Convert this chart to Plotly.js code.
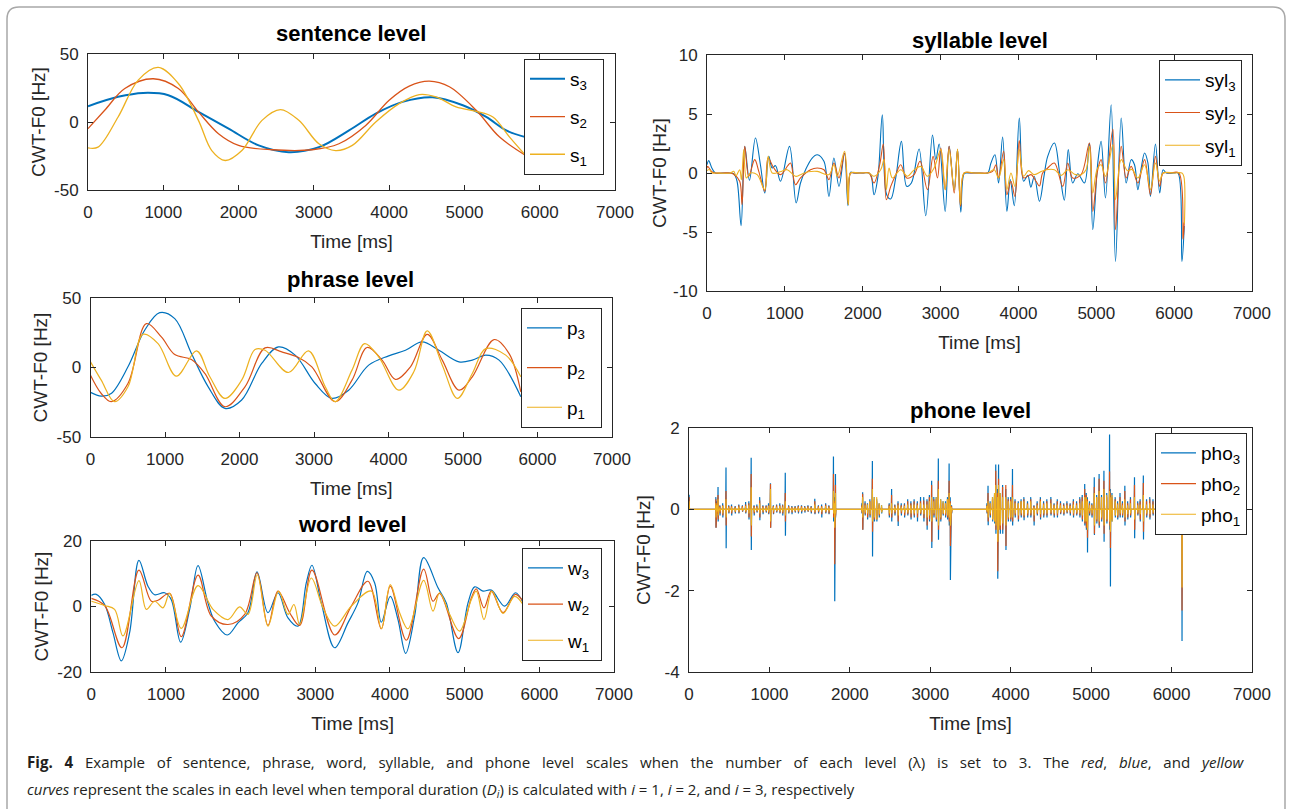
<!DOCTYPE html>
<html><head><meta charset="utf-8">
<script src="https://cdn.plot.ly/plotly-3.0.1.min.js"></script>
<style>html,body{margin:0;padding:0;background:#fff;} #chart{width:1292px;height:809px;}</style>
</head><body><div id="chart"></div>
<script>
// ---------------- DATA ----------------
const xTicks = [0,1000,2000,3000,4000,5000,6000,7000];
const panelTitles = ["sentence level","phrase level","word level","syllable level","phone level"];
const xLabel = "Time [ms]";
const yLabel = "CWT-F0 [Hz]";
const sentNames = ["s<sub>3</sub>","s<sub>2</sub>","s<sub>1</sub>"];
const phrNames = ["p<sub>3</sub>","p<sub>2</sub>","p<sub>1</sub>"];
const wordNames = ["w<sub>3</sub>","w<sub>2</sub>","w<sub>1</sub>"];
const sylNames = ["syl<sub>3</sub>","syl<sub>2</sub>","syl<sub>1</sub>"];
const phoNames = ["pho<sub>3</sub>","pho<sub>2</sub>","pho<sub>1</sub>"];

// sentence level [ms, Hz]
const sent3 = [[0,11.6],[400,18.5],[733,21.4],[1067,19.7],[1467,7.5],[1867,-4.9],[2267,-17.2],[2667,-22.2],[3067,-18.5],[3467,-6.2],[3822,6.2],[4178,14.8],[4578,18.2],[4978,12.3],[5289,3.7],[5556,-6.2],[5813,-11.1]];
const sent2 = [[0,-4.9],[222,8.6],[489,24.6],[867,31.8],[1200,24.6],[1467,7.4],[1733,-8.6],[2000,-17.2],[2444,-20.4],[2978,-20.4],[3333,-16],[3689,-2.5],[4000,16],[4267,26.4],[4533,30],[4800,25.9],[5156,8.6],[5467,-11.1],[5813,-24.6]];
const sent1 = [[0,-19],[133,-18.5],[400,3.7],[667,30.8],[933,40.1],[1200,28.3],[1467,1.2],[1644,-21],[1822,-28.3],[2044,-21],[2311,1.2],[2556,9.1],[2800,1.2],[3067,-16],[3289,-21],[3511,-17.2],[3822,0],[4133,13.5],[4400,20.2],[4622,18.5],[4889,11.1],[5156,7.9],[5378,3.7],[5600,-11.1],[5813,-24.6]];

// phrase level
const phr3 = [[0,-17.9],[144,-20.6],[278,-18.7],[503,0.5],[727,26.8],[929,39.5],[1131,35.2],[1355,10],[1580,-13.9],[1804,-29.4],[2029,-23.4],[2298,2.9],[2522,14.8],[2747,8.9],[3016,-11.5],[3240,-22.2],[3465,-16.3],[3734,1.7],[4003,8.4],[4228,12.4],[4452,18.4],[4677,12.4],[4946,4.1],[5125,5.3],[5305,8.9],[5484,5.3],[5776,-21]];
const phr2 = [[0,-5.5],[144,-18.7],[278,-24.6],[503,-11.5],[750,31.6],[951,22],[1131,9.3],[1355,5.7],[1535,-4.3],[1804,-28.2],[2073,-13.9],[2343,14.1],[2567,11.2],[2792,7.2],[2971,0.5],[3285,-24.6],[3510,-9.1],[3712,14.4],[3914,5.3],[4093,-8.6],[4295,0.5],[4520,23.9],[4722,5.3],[4946,-16.3],[5125,-6.7],[5417,20.1],[5619,10],[5776,-17.5]];
const phr1 = [[0,4.1],[144,-9.1],[323,-24.6],[503,-13.9],[705,23.9],[907,17.2],[1153,-6.2],[1423,12],[1602,-6.7],[1804,-22.2],[2029,-9.1],[2208,12.9],[2343,12.4],[2657,-3.6],[2926,12],[3151,-13.9],[3285,-24.6],[3510,-1.9],[3680,17.2],[3868,7.7],[4138,-16.3],[4340,-3.1],[4520,26.3],[4722,1.7],[4924,-22.2],[5125,-4.3],[5305,13.6],[5574,8.9],[5776,-6.7]];

// word level
const word3 = [[0,3.4],[67,3.7],[179,0.6],[290,-8],[402,-16.6],[513,-8],[638,14.1],[759,6.2],[848,3.6],[982,4.2],[1071,2.1],[1196,-10.9],[1317,-0.9],[1429,12.5],[1562,1.1],[1652,-4.5],[1821,-8.7],[1964,-5],[2098,-1.9],[2219,10.6],[2366,-1.9],[2500,4.2],[2634,-3.5],[2768,-6],[2879,7.2],[2955,12.6],[3080,1.1],[3259,-12.6],[3437,-5],[3571,1.1],[3696,10.7],[3795,7.2],[3884,-4.8],[4004,3.1],[4107,-4],[4210,-14.3],[4330,-2.9],[4451,14.9],[4643,5.7],[4754,1.1],[4911,-14.1],[5045,1.1],[5134,6],[5245,4.7],[5357,5],[5536,0.1],[5679,4.2],[5781,1.3]];
const word2 = [[0,2.5],[179,0.3],[411,-12.6],[638,11.1],[804,1.6],[893,1.9],[1049,4],[1205,-9.2],[1429,9.6],[1607,-2.9],[1830,-5.5],[2054,-2.4],[2219,10.3],[2366,-5.8],[2500,4.7],[2656,-1.9],[2790,-5.8],[2955,11.1],[3259,-8.7],[3482,0.1],[3705,7.7],[3884,-6.8],[4004,6.2],[4219,-10.3],[4451,11.4],[4576,1.6],[4665,4],[4920,-9.8],[5089,2.6],[5156,5.4],[5259,-0.4],[5357,4.7],[5513,-1.9],[5679,3.7],[5781,1.6]];
const word1 = [[0,1.6],[179,0.3],[312,-0.9],[424,-9],[638,7.9],[737,-0.9],[848,1.6],[960,-0.4],[1049,4],[1205,-6.7],[1429,6.4],[1630,-0.9],[1830,-4],[1986,-0.1],[2098,-2.4],[2223,9.7],[2366,-6],[2509,4.7],[2634,-2.4],[2714,0.6],[2790,-5.5],[2946,8.7],[3103,-0.4],[3259,-6],[3482,0.1],[3750,4.7],[3884,-6.8],[4004,6.7],[4129,-1.9],[4241,-6.8],[4451,8],[4576,-1.4],[4665,4.2],[4799,-2.4],[4933,-7.5],[5089,2.1],[5156,4.7],[5259,-4],[5366,4.7],[5513,-2.1],[5670,3.1],[5781,0.6]];

// syllable level
const syl3 = [[0,0.7],[21,1.05],[64,0.4],[107,0],[200,0],[300,0],[343,-0.05],[386,-0.7],[438,-4.46],[485,2.26],[545,-0.62],[622,2.97],[686,0.7],[742,-1.7],[794,1.41],[837,0.42],[880,0.62],[944,-0.7],[1060,2.26],[1145,-2.54],[1201,-0.85],[1266,0.28],[1351,1.27],[1416,1.55],[1502,0.99],[1566,-1.98],[1630,1.27],[1695,-1.13],[1767,1.7],[1810,-2.77],[1845,0.06],[1888,0],[2000,0],[2081,0],[2111,-0.28],[2145,-1.84],[2196,-0.28],[2252,4.94],[2308,-1.84],[2360,-2.2],[2424,-0.42],[2497,2.68],[2565,-1.13],[2625,-0.85],[2724,2.03],[2810,-3.62],[2896,3.22],[2939,1.13],[2982,2.46],[3059,-3.25],[3110,2.26],[3175,-1.41],[3218,1.98],[3260,-3.33],[3303,-0.06],[3346,0],[3500,0],[3604,0],[3647,0.85],[3698,1.55],[3745,-0.85],[3797,3.05],[3852,-3.25],[3895,-0.56],[3947,-2.77],[4011,4.66],[4067,-0.7],[4120,-0.2],[4160,-1.2],[4204,-0.3],[4270,-2.4],[4330,-0.2],[4376,1.41],[4462,2.54],[4530,0],[4590,-2.3],[4640,1.98],[4697,-0.85],[4762,-0.06],[4848,-0.85],[4912,2.54],[4955,-4.8],[5019,0.85],[5062,2.68],[5118,-2.12],[5191,5.79],[5247,-7.49],[5320,4.66],[5384,-0.85],[5448,1.13],[5491,0.7],[5534,-1.41],[5577,0.42],[5620,1.7],[5663,0.85],[5696,-1.98],[5760,2.46],[5815,-1.7],[5858,0.28],[5900,0],[6000,0],[6050,0],[6100,-7.5],[6130,-4.5]];
const syl2 = [[0,0.4],[9,0.56],[64,0.1],[107,0],[200,0],[300,0],[343,-0.1],[420,-0.7],[450,-2.68],[485,2.26],[536,-0.28],[613,1.13],[665,0.14],[742,-1.55],[785,1.27],[858,0.42],[944,-0.14],[1038,0.62],[1073,0.85],[1137,-0.99],[1201,-0.42],[1330,0.28],[1416,0.42],[1502,0.28],[1566,-0.56],[1630,0.85],[1695,-0.42],[1767,1.7],[1815,-2.68],[1845,0],[1900,0],[2000,0],[2081,0],[2145,-0.85],[2218,0.7],[2265,2.46],[2304,-2.26],[2360,-1.13],[2424,-0.14],[2488,0.7],[2565,-0.42],[2660,-0.14],[2737,0.99],[2831,-1.41],[2904,1.41],[2960,-0.42],[3003,2.12],[3059,-1.41],[3110,2.26],[3175,-1.7],[3218,1.98],[3256,-2.82],[3303,0],[3400,0],[3500,0],[3604,0],[3668,0.14],[3711,0.7],[3745,-0.42],[3810,1.84],[3852,-1.84],[3904,-0.7],[3955,-1.98],[4011,2.74],[4067,-0.42],[4161,-0.14],[4226,-0.7],[4270,-1.1],[4311,0],[4376,0.42],[4462,0.85],[4569,-1.13],[4633,0.85],[4697,-0.42],[4805,-0.14],[4912,2.54],[4955,-3.25],[5019,0.28],[5062,1.13],[5118,-0.85],[5213,3.73],[5247,-4.8],[5320,2.26],[5384,-0.42],[5448,0.56],[5534,-0.85],[5620,1.13],[5696,-1.84],[5760,1.41],[5815,-1.13],[5858,0],[5950,0],[6060,0],[6115,-5.6],[6130,-4.2]];
const syl1 = [[0,0.2],[30,0.3],[64,0],[107,0],[300,0],[343,0.14],[373,-0.23],[420,0.28],[442,-0.56],[472,1.98],[506,-0.42],[558,0],[644,-0.14],[742,-1.41],[785,1.41],[837,0],[940,0.1],[1030,0.28],[1137,-0.28],[1201,-0.14],[1300,0.1],[1416,0.14],[1566,-0.14],[1630,0.7],[1673,-0.28],[1767,1.84],[1815,-2.68],[1845,0],[1950,0],[2081,0],[2145,-0.28],[2231,0.28],[2274,1.13],[2304,-1.41],[2338,0.42],[2381,-0.42],[2488,0.28],[2574,-0.28],[2650,0.2],[2746,0.56],[2831,-0.28],[2917,0.42],[3003,1.98],[3059,-1.41],[3110,1.98],[3175,-1.41],[3218,2.03],[3256,-2.68],[3303,0],[3450,0],[3604,0],[3689,0.28],[3745,-0.42],[3810,1.13],[3852,-1.41],[3904,0],[3955,-1.13],[4011,1.98],[4067,-0.28],[4130,0.2],[4204,-0.14],[4300,0.15],[4380,0.3],[4462,0.28],[4550,-0.2],[4633,0.28],[4720,-0.1],[4805,-0.14],[4870,0.3],[4912,2.26],[4955,-1.7],[5010,0.3],[5062,0.7],[5118,-0.28],[5213,2.4],[5247,-2.26],[5320,1.13],[5400,0.2],[5460,0.3],[5534,-0.42],[5620,0.7],[5696,-1.41],[5760,0.85],[5815,-0.7],[5858,0],[6000,0],[6100,0],[6125,-0.3],[6132,-4.3]];

// phone level spikes: [time ms, pho3 high, pho3 low, pho2 high, pho2 low, pho1 high, pho1 low]
const phoSpikes = [
[2,0.36,0,0.3,0,0.2,0],
[335,0.3,-0.45,0.25,-0.45,0.15,-0.2],[350,0.2,-0.1,0.15,-0.1,0.1,-0.05],[362,0.55,-0.3,0.35,-0.25,0.25,-0.15],[385,0.1,-0.15,0.08,-0.1,0.05,-0.05],[420,0.15,-0.2,0.1,-0.15,0.08,-0.1],
[461,1.03,-0.96,0.45,-0.4,0.25,-0.2],[495,0.1,-0.1,0.08,-0.08,0.05,-0.05],[530,0.12,-0.15,0.08,-0.1,0.05,-0.05],[575,0.08,-0.1,0.06,-0.07,0.04,-0.05],[620,0.12,-0.1,0.1,-0.08,0.06,-0.05],[665,0.1,-0.06,0.08,-0.05,0.05,-0.03],[705,0.18,-0.1,0.12,-0.08,0.08,-0.05],[745,0.2,-0.25,0.15,-0.2,0.1,-0.1],
[774,1.27,-1.0,0.87,-0.67,0.54,-0.4],[810,0.1,-0.15,0.08,-0.1,0.05,-0.06],[845,0.12,-0.08,0.08,-0.06,0.05,-0.04],[880,0.3,-0.27,0.22,-0.2,0.15,-0.1],[920,0.1,-0.12,0.08,-0.08,0.05,-0.05],[960,0.1,-0.08,0.08,-0.06,0.05,-0.04],[990,0.15,-0.12,0.1,-0.1,0.08,-0.06],
[1014,0.64,-0.45,0.62,-0.45,0.5,-0.3],[1050,0.1,-0.12,0.08,-0.1,0.06,-0.05],[1090,0.12,-0.08,0.1,-0.06,0.06,-0.04],[1130,0.15,-0.1,0.1,-0.08,0.08,-0.05],[1165,0.12,-0.15,0.1,-0.1,0.06,-0.06],
[1198,0.9,-0.65,0.4,-0.3,0.2,-0.15],[1240,0.1,-0.1,0.08,-0.08,0.05,-0.05],[1280,0.08,-0.12,0.06,-0.08,0.04,-0.05],[1320,0.08,-0.08,0.06,-0.06,0.04,-0.04],[1360,0.1,-0.1,0.08,-0.07,0.05,-0.04],[1400,0.1,-0.1,0.08,-0.06,0.05,-0.04],[1440,0.08,-0.08,0.06,-0.05,0.04,-0.03],[1480,0.1,-0.06,0.08,-0.05,0.05,-0.03],[1520,0.08,-0.1,0.06,-0.07,0.04,-0.04],[1565,0.26,-0.12,0.2,-0.1,0.12,-0.06],[1610,0.1,-0.1,0.08,-0.07,0.05,-0.04],[1650,0.12,-0.2,0.08,-0.12,0.05,-0.06],[1700,0.15,-0.1,0.12,-0.08,0.08,-0.05],[1740,0.1,-0.12,0.08,-0.1,0.05,-0.05],
[1797,1.3,-0.3,0.87,-0.2,0.45,-0.1],[1811,0.3,-2.26,0.2,-1.35,0.15,-0.45],[1822,0.87,-0.2,0.6,-0.15,0.4,-0.1],
[2150,0.15,-0.1,0.1,-0.08,0.06,-0.05],[2160,0.42,-0.5,0.38,-0.5,0.3,-0.2],[2190,0.2,-0.15,0.15,-0.12,0.1,-0.08],[2220,0.15,-0.25,0.12,-0.2,0.12,-0.1],[2250,0.25,-0.2,0.2,-0.15,0.2,-0.12],
[2281,1.19,-1.16,0.75,-0.55,0.5,-0.3],[2305,0.3,-0.3,0.25,-0.25,0.3,-0.2],[2335,0.25,-0.3,0.2,-0.25,0.3,-0.25],[2365,0.15,-0.2,0.12,-0.15,0.15,-0.12],[2395,0.1,-0.1,0.05,-0.05,0.1,-0.08],
[2490,0.15,-0.2,0.12,-0.15,0.08,-0.1],[2520,0.5,-0.3,0.35,-0.2,0.15,-0.1],[2560,0.12,-0.15,0.1,-0.1,0.06,-0.06],[2600,0.2,-0.41,0.15,-0.3,0.1,-0.15],[2640,0.15,-0.15,0.1,-0.1,0.06,-0.05],[2680,0.15,-0.2,0.12,-0.15,0.08,-0.08],[2720,0.25,-0.15,0.2,-0.12,0.12,-0.08],[2760,0.2,-0.25,0.15,-0.2,0.1,-0.1],[2800,0.25,-0.2,0.2,-0.15,0.12,-0.1],[2840,0.2,-0.3,0.15,-0.2,0.1,-0.1],[2880,0.3,-0.15,0.2,-0.12,0.15,-0.08],[2920,0.3,-0.3,0.22,-0.22,0.12,-0.12],[2960,0.25,-0.5,0.2,-0.4,0.12,-0.2],[2990,0.35,-0.3,0.3,-0.25,0.2,-0.15],
[3018,0.7,-0.95,0.6,-0.8,0.3,-0.3],[3045,0.3,-0.2,0.25,-0.15,0.2,-0.1],[3075,0.3,-0.3,0.25,-0.25,0.3,-0.2],[3101,1.25,-0.75,0.7,-0.5,0.5,-0.4],[3130,0.25,-0.3,0.2,-0.25,0.25,-0.2],[3160,0.2,-0.15,0.15,-0.12,0.2,-0.1],[3190,0.2,-0.2,0.15,-0.15,0.15,-0.1],[3215,0.3,-0.25,0.25,-0.2,0.25,-0.15],[3235,1.13,-0.4,0.7,-0.3,0.4,-0.2],[3249,0.3,-1.74,0.2,-0.9,0.15,-0.4],[3265,0.1,-0.1,0.08,-0.08,0.05,-0.05],
[3705,0.15,-0.1,0.1,-0.08,0.08,-0.05],[3719,0.58,-0.39,0.4,-0.3,0.2,-0.2],[3745,0.2,-0.2,0.15,-0.15,0.15,-0.1],[3775,0.3,-0.3,0.25,-0.25,0.3,-0.25],[3800,0.4,-0.35,0.35,-0.3,0.4,-0.3],[3815,1.1,-0.6,0.95,-0.5,0.6,-0.4],[3838,0.5,-1.71,0.4,-1.52,0.3,-0.8],[3850,1.1,-0.5,0.75,-0.5,0.6,-0.5],[3870,0.4,-0.6,0.35,-0.5,0.4,-0.4],[3900,0.6,-0.6,0.55,-0.5,0.3,-0.35],[3940,0.5,-1.0,0.6,-0.9,0.3,-0.4],[3970,0.3,-0.3,0.25,-0.25,0.2,-0.2],[4000,0.3,-0.3,0.25,-0.25,0.2,-0.2],
[4023,0.99,-0.4,0.6,-0.3,0.3,-0.2],[4055,0.25,-0.2,0.2,-0.15,0.15,-0.1],[4095,0.2,-0.3,0.15,-0.25,0.15,-0.15],[4130,0.25,-0.2,0.2,-0.15,0.2,-0.1],[4165,0.3,-0.27,0.25,-0.2,0.2,-0.15],[4210,0.2,-0.2,0.15,-0.15,0.12,-0.1],[4250,0.3,-0.2,0.25,-0.15,0.2,-0.1],[4290,0.1,-0.4,0.08,-0.3,0.05,-0.15],[4330,0.2,-0.15,0.15,-0.12,0.1,-0.08],[4370,0.3,-0.25,0.25,-0.2,0.2,-0.12],[4410,0.2,-0.2,0.15,-0.15,0.12,-0.1],[4450,0.25,-0.2,0.2,-0.15,0.15,-0.1],[4500,0.3,-0.15,0.25,-0.12,0.15,-0.08],[4540,0.15,-0.2,0.12,-0.15,0.1,-0.1],[4580,0.25,-0.2,0.2,-0.15,0.12,-0.1],[4620,0.2,-0.12,0.15,-0.1,0.1,-0.06],[4660,0.15,-0.15,0.12,-0.12,0.08,-0.08],[4700,0.2,-0.1,0.15,-0.08,0.1,-0.05],[4740,0.15,-0.15,0.12,-0.1,0.08,-0.06],[4780,0.25,-0.2,0.2,-0.15,0.12,-0.1],[4820,0.2,-0.15,0.15,-0.12,0.1,-0.08],[4860,0.3,-0.2,0.25,-0.15,0.15,-0.1],[4890,0.35,-0.3,0.3,-0.25,0.2,-0.15],
[4921,0.62,-0.4,0.5,-0.35,0.3,-0.3],[4940,0.4,-0.5,0.35,-0.45,0.3,-0.3],[4954,0.3,-1.06,0.25,-0.7,0.2,-0.5],[4980,0.2,-0.15,0.15,-0.1,0.1,-0.05],[5010,0.15,-0.2,0.12,-0.15,0.1,-0.1],[5040,0.79,-0.63,0.55,-0.6,0.4,-0.4],[5070,0.35,-0.35,0.3,-0.3,0.3,-0.25],[5100,0.87,-0.45,0.75,-0.4,0.45,-0.3],[5130,0.35,-0.3,0.3,-0.25,0.3,-0.2],[5160,0.95,-0.8,0.7,-0.6,0.5,-0.4],[5195,0.4,-0.35,0.3,-0.3,0.35,-0.25],
[5230,1.84,-0.5,0.93,-0.4,0.45,-0.3],[5239,0.5,-1.9,0.4,-0.95,0.3,-0.55],[5260,0.4,-0.3,0.3,-0.25,0.35,-0.3],[5300,0.3,-0.2,0.25,-0.15,0.2,-0.15],[5330,0.2,-0.25,0.15,-0.2,0.12,-0.15],[5360,0.4,-0.2,0.3,-0.15,0.2,-0.1],[5390,0.2,-0.2,0.15,-0.15,0.1,-0.1],[5420,0.58,-0.4,0.45,-0.3,0.25,-0.2],[5455,0.2,-0.25,0.15,-0.2,0.1,-0.12],[5490,0.3,-0.2,0.25,-0.15,0.15,-0.1],[5540,0.79,-0.71,0.6,-0.5,0.3,-0.25],[5580,0.2,-0.15,0.15,-0.12,0.1,-0.08],[5610,0.25,-0.3,0.2,-0.25,0.12,-0.12],[5650,0.83,-0.74,0.65,-0.55,0.35,-0.3],[5690,0.25,-0.2,0.2,-0.15,0.12,-0.1],[5730,0.3,-0.25,0.25,-0.2,0.15,-0.12],[5770,0.25,-0.15,0.2,-0.12,0.12,-0.08],[5810,0.15,-0.2,0.12,-0.15,0.08,-0.1],
[6129,0.05,-3.24,0.05,-2.49,0.03,-1.92]
];

const captionLine1 = "<b>Fig. 4</b> Example of sentence, phrase, word, syllable, and phone level scales when the number of each level (λ) is set to 3. The <i>red</i>, <i>blue</i>, and <i>yellow</i>";
const captionLine2 = "<i>curves</i> represent the scales in each level when temporal duration (<i>D<sub>i</sub></i>) is calculated with <i>i</i> = 1, <i>i</i> = 2, and <i>i</i> = 3, respectively";

// ---------------- STYLE / BUILD ----------------
const colors = ["#0072BD","#D95319","#EDB120"];
const FONT = '"Liberation Sans", Arial, Helvetica, sans-serif';
const CAPFONT = '"Open Sans", "Noto Sans", sans-serif';
const TXT = "#262626";
const NB = "\u00a0";

function pairTrace(pts, name, ci, idx, legend, width, pad){
  return {x: pts.map(p=>p[0]), y: pts.map(p=>p[1]), name: name + NB.repeat(pad||0), type:"scatter", mode:"lines",
    line:{color:colors[ci], width:width||1.2, shape:"spline", smoothing:1},
    xaxis: idx===1?"x":"x"+idx, yaxis: idx===1?"y":"y"+idx, legend: legend, legendgroup: legend+"g"+ci, hoverinfo:"skip"};
}
function spikeTrace(col, name, ci, idx, legend){
  const x=[], y=[];
  phoSpikes.forEach(r=>{ x.push(r[0]-4, r[0]-1, r[0]+1, r[0]+4); y.push(0, r[col], r[col+1], 0); });
  return {x, y, name, type:"scatter", mode:"lines", line:{color:colors[ci], width:1.2},
    xaxis:"x"+idx, yaxis:"y"+idx, legend, legendgroup: legend+"g"+ci, hoverinfo:"skip"};
}

const data = [
  pairTrace(sent3, sentNames[0], 0, 1, "legend", 2, 2),
  pairTrace(sent2, sentNames[1], 1, 1, "legend", 1.3, 2),
  pairTrace(sent1, sentNames[2], 2, 1, "legend", 1.3, 2),
  pairTrace(phr3, phrNames[0], 0, 2, "legend2", 1.2, 2),
  pairTrace(phr2, phrNames[1], 1, 2, "legend2", 1.2, 2),
  pairTrace(phr1, phrNames[2], 2, 2, "legend2", 1.2, 2),
  pairTrace(word3, wordNames[0], 0, 3, "legend3", 1.2, 1),
  pairTrace(word2, wordNames[1], 1, 3, "legend3", 1.2, 1),
  pairTrace(word1, wordNames[2], 2, 3, "legend3", 1.2, 1),
  pairTrace(syl3, sylNames[0], 0, 4, "legend4", 1.1, 0),
  pairTrace(syl2, sylNames[1], 1, 4, "legend4", 1.1, 0),
  pairTrace(syl1, sylNames[2], 2, 4, "legend4", 1.1, 0),
  spikeTrace(1, phoNames[0], 0, 5, "legend5"),
  spikeTrace(3, phoNames[1], 1, 5, "legend5"),
  spikeTrace(5, phoNames[2], 2, 5, "legend5")
];

const W=1292, H=809;
const px = v => v/W, py = v => 1 - v/H;

function xax(x0,x1,anchor){
  return {domain:[px(x0),px(x1)], range:[0,7000], tickvals:xTicks, ticktext:xTicks.map(String), anchor,
    showline:true, mirror:"ticks", ticks:"inside", ticklen:5, tickwidth:1, tickcolor:TXT, linecolor:TXT, linewidth:1,
    showgrid:false, zeroline:false, ticklabelstandoff:7, tickfont:{family:FONT,size:17,color:TXT},
    title:{text:xLabel, font:{family:FONT,size:19,color:TXT}, standoff:13}};
}
function yax(y0,y1,range,tv,anchor,standoff){
  return {domain:[py(y1),py(y0)], range, tickvals:tv, ticktext:tv.map(String), anchor,
    showline:true, mirror:"ticks", ticks:"inside", ticklen:5, tickwidth:1, tickcolor:TXT, linecolor:TXT, linewidth:1,
    showgrid:false, zeroline:false, ticklabelstandoff:5, tickfont:{family:FONT,size:17,color:TXT},
    title:{text:yLabel, font:{family:FONT,size:19,color:TXT}, standoff:standoff}};
}
function leg(x,y,gap){
  return {x:px(x), y:py(y), xanchor:"left", yanchor:"top", bgcolor:"#ffffff", bordercolor:TXT, borderwidth:1,
    font:{family:FONT,size:19,color:"#000"}, tracegroupgap:gap, itemwidth:35, traceorder:"grouped"};
}
function ttl(text,x,y){
  return {text:"<b>"+text+"</b>", x:px(x), y:py(y), xref:"paper", yref:"paper", xanchor:"center", yanchor:"middle",
    showarrow:false, font:{family:FONT,size:22,color:"#000"}};
}
// justified first caption line: widen word gaps with non-breaking spaces
const justify = s => s.replace(/ /g, " " + NB + NB);

const r = 12;
const L=px(7), R=px(1285), T=py(7), B=-0.05, rx=r/W, ry=r/H;
const framePath = `M ${L} ${B} L ${L} ${T-ry} Q ${L} ${T} ${L+rx} ${T} L ${R-rx} ${T} Q ${R} ${T} ${R} ${T-ry} L ${R} ${B}`;

const layout = {
  width:W, height:H, margin:{l:0,r:0,t:0,b:0}, paper_bgcolor:"#fff", plot_bgcolor:"#fff",
  font:{family:FONT, color:TXT},
  xaxis: xax(88,615,"y"), yaxis: yax(54,190,[-50,50],[-50,0,50],"x",3),
  xaxis2: xax(90.5,612,"y2"), yaxis2: yax(298,437,[-50,50],[-50,0,50],"x2",3),
  xaxis3: xax(91.3,614,"y3"), yaxis3: yax(541,672,[-20,20],[-20,0,20],"x3",3),
  xaxis4: xax(707,1252,"y4"), yaxis4: yax(55,291,[-10,10],[-10,-5,0,5,10],"x4",1),
  xaxis5: xax(689,1252,"y5"), yaxis5: yax(428,672,[-4,2],[-4,-2,0,2],"x5",8),
  legend: leg(524,59,10), legend2: leg(521,308,12), legend3: leg(522,548,8.5),
  legend4: leg(1159,60,5), legend5: leg(1155,433,3),
  annotations:[
    ttl(panelTitles[0],351.5,33), ttl(panelTitles[1],351,279), ttl(panelTitles[2],352.6,524),
    ttl(panelTitles[3],979.5,40), ttl(panelTitles[4],970.5,410),
    {text:justify(captionLine1), x:px(25), y:py(762), xref:"paper", yref:"paper", xanchor:"left", yanchor:"middle", showarrow:false,
      font:{family:CAPFONT, size:15.1, color:"#231f20"}},
    {text:captionLine2, x:px(25), y:py(790), xref:"paper", yref:"paper", xanchor:"left", yanchor:"middle", showarrow:false,
      font:{family:CAPFONT, size:15, color:"#231f20"}}
  ],
  shapes:[{type:"path", xref:"paper", yref:"paper", path:framePath, line:{color:"#a8a8a8", width:1.5}, layer:"below"}],
  showlegend:true
};

Plotly.newPlot("chart", data, layout, {staticPlot:true, displayModeBar:false});
</script></body></html>
